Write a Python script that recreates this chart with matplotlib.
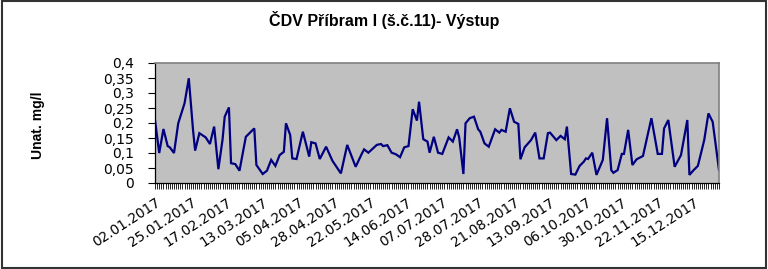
import matplotlib
matplotlib.use("Agg")
import matplotlib.pyplot as plt
from matplotlib.patches import Rectangle

# sample positions (category index of working-day axis) and values (mg/l)
sample_idx = [0, 2, 4, 6, 7, 9, 11, 14, 16, 18, 19, 21, 24, 26, 28, 30, 32, 33, 35, 36,
              38, 40, 43, 47, 48, 51, 53, 55, 57, 59, 61, 62, 64, 65, 67, 70, 73, 74, 76, 78,
              81, 84, 88, 91, 95, 98, 99, 101, 105, 107, 108, 110, 112, 114, 116, 118, 120, 122, 124, 125,
              127, 129, 130, 132, 134, 136, 139, 141, 143, 144, 146, 147, 149, 151, 153, 154, 156, 158, 161, 163,
              164, 166, 168, 170, 172, 173, 175, 178, 180, 182, 184, 186, 187, 190, 192, 194, 195, 197, 199, 201,
              203, 204, 205, 207, 209, 211, 212, 214, 216, 217, 219, 221, 222, 224, 226, 228, 231, 235, 238, 240,
              241, 243, 246, 249, 252, 253, 255, 257, 260, 262, 264, 267]
unat = [0.21, 0.10, 0.18, 0.123, 0.119, 0.10, 0.199, 0.266, 0.349, 0.177, 0.108, 0.166, 0.152, 0.13, 0.188, 0.046, 0.146, 0.221, 0.252, 0.066,
        0.063, 0.041, 0.154, 0.182, 0.06, 0.03, 0.041, 0.077, 0.057, 0.093, 0.104, 0.199, 0.16, 0.082, 0.08, 0.171, 0.088, 0.136, 0.132, 0.08,
        0.121, 0.074, 0.032, 0.127, 0.054, 0.099, 0.112, 0.101, 0.127, 0.13, 0.123, 0.126, 0.101, 0.096, 0.086, 0.119, 0.123, 0.246, 0.208, 0.271,
        0.146, 0.138, 0.101, 0.154, 0.101, 0.097, 0.152, 0.138, 0.179, 0.152, 0.03, 0.199, 0.216, 0.221, 0.179, 0.171, 0.132, 0.121, 0.179, 0.168,
        0.177, 0.171, 0.249, 0.204, 0.197, 0.079, 0.119, 0.143, 0.168, 0.082, 0.082, 0.166, 0.168, 0.143, 0.157, 0.146, 0.188, 0.03, 0.028, 0.057,
        0.071, 0.082, 0.08, 0.101, 0.027, 0.06, 0.077, 0.216, 0.043, 0.034, 0.043, 0.097, 0.097, 0.177, 0.06, 0.079, 0.09, 0.216, 0.097, 0.097,
        0.182, 0.21, 0.054, 0.093, 0.21, 0.027, 0.043, 0.057, 0.143, 0.232, 0.204, 0.043]

tick_labels = ["02.01.2017", "25.01.2017", "17.02.2017", "13.03.2017", "05.04.2017", "28.04.2017",
               "22.05.2017", "14.06.2017", "07.07.2017", "28.07.2017", "21.08.2017", "13.09.2017",
               "06.10.2017", "30.10.2017", "22.11.2017", "15.12.2017"]
label_step = 17
n_categories = 268
y_ticks = [0, 0.05, 0.1, 0.15, 0.2, 0.25, 0.3, 0.35, 0.4]
y_tick_labels = ["0", "0,05", "0,1", "0,15", "0,2", "0,25", "0,3", "0,35", "0,4"]

plt.rcParams['font.family'] = ['Liberation Sans', 'DejaVu Sans']
wide = ['DejaVu Sans']

fig = plt.figure(figsize=(7.68, 2.69), dpi=100)
fig.patch.set_facecolor('white')
fig.patches.append(Rectangle((0.002, 0.004), 0.995, 0.992, transform=fig.transFigure,
                             fill=False, edgecolor='#333333', linewidth=1.5))

ax = fig.add_axes([155/768, 1 - 183/269, (719 - 155)/768, 120/269])
ax.set_facecolor('#C0C0C0')
ax.plot(sample_idx, unat, color='#000080', linewidth=1.6, solid_joinstyle='miter')

ax.set_xlim(0, n_categories - 1)
ax.set_ylim(0, 0.4)
ax.set_yticks(y_ticks)
ax.set_yticklabels(y_tick_labels, fontsize=10, family=wide)
ax.set_xticks([i * label_step for i in range(len(tick_labels))])
ax.set_xticklabels(tick_labels, rotation=33, ha='right', va='top', rotation_mode='anchor',
                   fontsize=9.8, family=wide)
ax.set_xticks(range(n_categories), minor=True)
ax.tick_params(axis='x', which='both', direction='out', length=4, width=0.6, pad=5)
ax.tick_params(axis='y', direction='out', length=5, width=0.8, pad=10)

for s in ['top', 'right']:
    ax.spines[s].set_color('#808080')
    ax.spines[s].set_linewidth(1.2)
for s in ['left', 'bottom']:
    ax.spines[s].set_color('black')
    ax.spines[s].set_linewidth(0.9)

fig.text(38/768, 1 - 125/269, "Unat. mg/l", rotation=90, ha='center', va='center',
         fontsize=10, fontweight='bold')
fig.text(0.5, 0.925, "ČDV Příbram I (š.č.11)- Výstup", ha='center', va='center',
         fontsize=11.5, fontweight='bold')

fig.savefig("out.png", dpi=100, facecolor='white')
